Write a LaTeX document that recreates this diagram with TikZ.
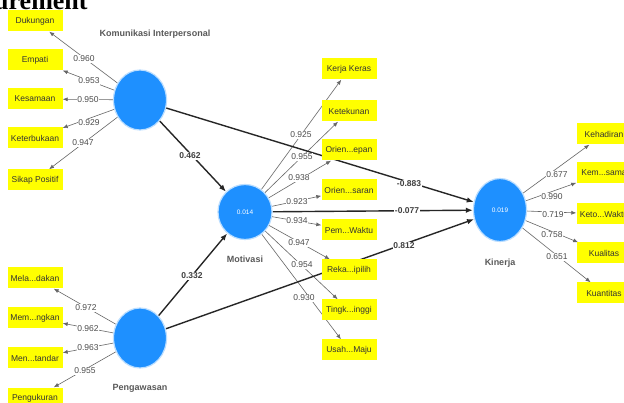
\documentclass[tikz,border=0pt]{standalone}
\usepackage{fontspec}
\setmainfont{Liberation Sans}
\newfontfamily\headfont{Liberation Serif}
\usetikzlibrary{shapes.geometric,arrows.meta}
\definecolor{lvblue}{RGB}{30,144,255}
\definecolor{indyellow}{RGB}{255,255,0}
\pgfdeclarelayer{bg}
\pgfsetlayers{bg,main}
\begin{document}
\begin{tikzpicture}[x=1pt,y=-1pt,
 ind/.style={fill=indyellow, minimum width=55pt, minimum height=21pt, inner sep=0pt, font=\fontsize{8.5}{9}\selectfont, text=black!80},
 lv/.style={ellipse, fill=lvblue, draw=lvblue!30, line width=1.2pt, minimum width=53pt, minimum height=60pt, inner sep=0pt, font=\fontsize{6.5}{7}\selectfont, text=white},
 lvlab/.style={font=\bfseries\fontsize{9}{10}\selectfont, text=black!65},
 load/.style={-{Latex[length=5pt,width=4pt]}, draw=black!60, line width=0.6pt},
 pathc/.style={-{Latex[length=7pt,width=5.5pt]}, draw=black!85, line width=1.4pt},
 wt/.style={fill=white, inner sep=0.6pt, font=\fontsize{8.5}{9}\selectfont, text=black!70},
 pc/.style={fill=white, inner sep=0.6pt, font=\bfseries\fontsize{8.5}{9}\selectfont, text=black!75},
]
\useasboundingbox (0,0) rectangle (624,403);
\begin{pgfonlayer}{bg}
\fill[white] (0,0) rectangle (624,403);
\end{pgfonlayer}

\node[anchor=base west, inner sep=0pt, font=\headfont\bfseries\fontsize{26}{26}\selectfont] (hd) at (-6,10) {urement};

% latent variables
\node[lv] (KI) at (140,100) {};
\node[lv] (PG) at (140,338) {};
\node[lv, minimum width=54pt, minimum height=55pt] (MO) at (245,212) {0.014};
\node[lv, minimum width=53pt, minimum height=63pt] (KN) at (500,210) {0.019};

\node[lvlab] (lKI) at (155,34) {Komunikasi Interpersonal};
\node[lvlab] (lPG) at (140,388) {Pengawasan};
\node[lvlab] (lMO) at (245,259) {Motivasi};
\node[lvlab] (lKN) at (500,263) {Kinerja};

% indicators
\node[ind] (d1) at (35,21) {Dukungan};
\node[ind] (d2) at (35,60) {Empati};
\node[ind] (d3) at (35,99) {Kesamaan};
\node[ind] (d4) at (35,138) {Keterbukaan};
\node[ind] (d5) at (35,180) {Sikap Positif};

\node[ind] (p1) at (35,278) {Mela...dakan};
\node[ind] (p2) at (35,318) {Mem...ngkan};
\node[ind] (p3) at (35,358) {Men...tandar};
\node[ind] (p4) at (35,398) {Pengukuran};

\node[ind] (m1) at (349,69) {Kerja Keras};
\node[ind] (m2) at (349,111) {Ketekunan};
\node[ind] (m3) at (349,150) {Orien...epan};
\node[ind] (m4) at (349,190) {Orien...saran};
\node[ind] (m5) at (349,230) {Pem...Waktu};
\node[ind] (m6) at (349,270) {Reka...ipilih};
\node[ind] (m7) at (349,310) {Tingk...inggi};
\node[ind] (m8) at (349,350) {Usah...Maju};

\node[ind] (k1) at (604,134) {Kehadiran};
\node[ind] (k2) at (604,173) {Kem...sama};
\node[ind] (k3) at (604,214) {Keto...Waktu};
\node[ind] (k4) at (604,253) {Kualitas};
\node[ind] (k5) at (604,293) {Kuantitas};

\begin{pgfonlayer}{bg}
% loadings
\foreach \t in {d1,d2,d3,d4,d5} \draw[load] (KI) -- (\t);
\foreach \t in {p1,p2,p3,p4} \draw[load] (PG) -- (\t);
\foreach \t in {m1,m2,m3,m4,m5,m6,m7,m8} \draw[load] (MO) -- (\t);
\foreach \t in {k1,k2,k3,k4,k5} \draw[load] (KN) -- (\t);

% structural paths
\draw[pathc] (KI) -- (MO);
\draw[pathc] (PG) -- (MO);
\draw[pathc] (KI) -- (KN);
\draw[pathc] (MO) -- (KN);
\draw[pathc] (PG) -- (KN);
\end{pgfonlayer}

% loading labels
\node[wt] (w1) at (84,59) {0.960};
\node[wt] (w2) at (89,81) {0.953};
\node[wt] (w3) at (88,100) {0.950};
\node[wt] (w4) at (89,123) {0.929};
\node[wt] (w5) at (83,143) {0.947};

\node[wt] (w6) at (86,308) {0.972};
\node[wt] (w7) at (88,329) {0.962};
\node[wt] (w8) at (88,348) {0.963};
\node[wt] (w9) at (85,371) {0.955};

\node[wt] (w10) at (301,135) {0.925};
\node[wt] (w11) at (302,157) {0.955};
\node[wt] (w12) at (299,178) {0.938};
\node[wt] (w13) at (297,202) {0.923};
\node[wt] (w14) at (297,221) {0.934};
\node[wt] (w15) at (299,243) {0.947};
\node[wt] (w16) at (302,265) {0.954};
\node[wt] (w17) at (304,298) {0.930};

\node[wt] (w18) at (557,175) {0.677};
\node[wt] (w19) at (552,197) {0.990};
\node[wt] (w20) at (553,215) {0.719};
\node[wt] (w21) at (552,235) {0.758};
\node[wt] (w22) at (557,257) {0.651};

% path coefficients
\node[pc] (c1) at (190,156) {0.462};
\node[pc] (c2) at (192,276) {0.332};
\node[pc] (c3) at (409,184) {-0.883};
\node[pc] (c4) at (407,211) {-0.077};
\node[pc] (c5) at (404,246) {0.812};
\end{tikzpicture}
\end{document}
